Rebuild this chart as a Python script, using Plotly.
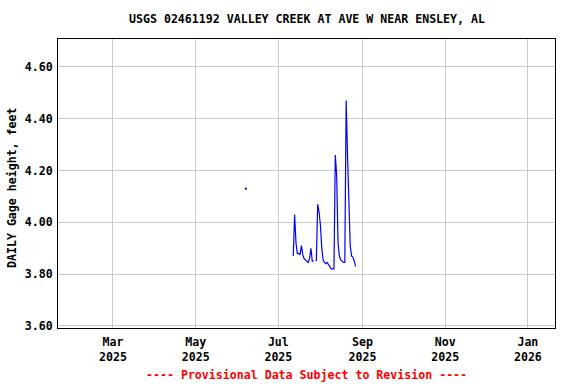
import pandas as pd
import plotly.graph_objects as go

# ---- data ----
title_text = "USGS 02461192 VALLEY CREEK AT AVE W NEAR ENSLEY, AL"
y_title = "DAILY Gage height, feet"
footer_text = "---- Provisional Data Subject to Revision ----"

isolated_dates = ["2025-06-07"]
isolated_values = [4.13]

series_start = "2025-07-12"
gage_values = [
    3.87, 4.03, 3.92, 3.88, 3.88, 3.875, 3.91, 3.875, 3.86, 3.855,
    3.85, 3.845, 3.86, 3.90, 3.85, 3.85, None, 3.85, 4.07, 4.04,
    3.99, 3.90, 3.855, 3.845, 3.84, 3.845, 3.835, 3.83, 3.82, 3.82,
    3.82, 4.26, 4.18, 3.92, 3.87, 3.855, 3.85, 3.845, 3.845, 4.47,
    4.26, 4.02, 3.91, 3.87, 3.865, 3.85, 3.83,
]
gage_dates = pd.date_range(series_start, periods=len(gage_values), freq="D")

x_range = ["2025-01-19 12:00", "2026-01-21"]
y_range = [3.592, 4.708]
y_ticks = [3.6, 3.8, 4.0, 4.2, 4.4, 4.6]

FONT = "DejaVu Sans Mono"
FS = 11.6

fig = go.Figure()
fig.add_trace(go.Scatter(
    x=gage_dates, y=gage_values, mode="lines",
    line=dict(color="#0000ff", width=1.2), connectgaps=False,
    hoverinfo="x+y", showlegend=False,
))
fig.add_trace(go.Scatter(
    x=isolated_dates, y=isolated_values, mode="markers",
    marker=dict(color="#0000ff", size=2, symbol="square", line=dict(width=0)),
    showlegend=False,
))

fig.update_layout(
    width=576, height=384,
    margin=dict(l=58, r=21, t=39, b=56, autoexpand=False),
    paper_bgcolor="white", plot_bgcolor="white",
    font=dict(family=FONT, size=FS, color="black", weight="bold"),
    showlegend=False,
)
fig.update_xaxes(
    type="date", range=x_range,
    tick0="2025-01-01", dtick="M2", tickformat="%b<br>%Y",
    showgrid=True, gridcolor="#cccccc", gridwidth=1,
    showline=True, linecolor="black", linewidth=1, mirror=True,
    ticks="", zeroline=False, ticklabelstandoff=3,
    tickfont=dict(family=FONT, size=FS, color="black", weight="bold"),
)
fig.update_yaxes(
    range=y_range, tickvals=y_ticks, tickformat=".2f",
    showgrid=True, gridcolor="#cccccc", gridwidth=1,
    showline=True, linecolor="black", linewidth=1, mirror=True,
    ticks="", zeroline=False, ticklabelstandoff=2,
    tickfont=dict(family=FONT, size=FS, color="black", weight="bold"),
)

plot_h = 384 - 39 - 56
plot_w = 576 - 58 - 21
fig.add_annotation(
    text=title_text, xref="paper", yref="paper",
    x=0.5, y=1 + (39 - 19) / plot_h, xanchor="center", yanchor="middle",
    showarrow=False, font=dict(family=FONT, size=FS, color="black", weight="bold"),
)
fig.add_annotation(
    text=footer_text, xref="paper", yref="paper",
    x=0.5, y=-(375 - 328) / plot_h, xanchor="center", yanchor="middle",
    showarrow=False, font=dict(family=FONT, size=FS, color="#ff0000", weight="bold"),
)
fig.add_annotation(
    text=y_title, xref="paper", yref="paper",
    x=(12 - 58) / plot_w, y=1 - (188 - 39) / plot_h, xanchor="center", yanchor="middle",
    textangle=-90, showarrow=False,
    font=dict(family=FONT, size=FS, color="black", weight="bold"),
)

fig.write_html(
    "out.html",
    config={"displayModeBar": False},
    post_script="document.body.style.margin='0px';document.body.style.padding='0px';",
)
